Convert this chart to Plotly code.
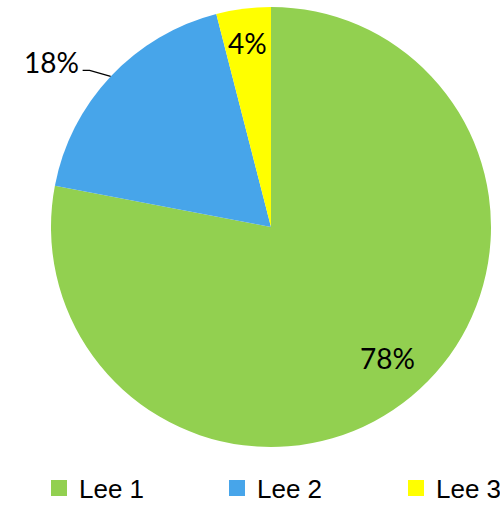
import math
import plotly.graph_objects as go

categories = ["Lee 1", "Lee 2", "Lee 3"]
values = [78, 18, 4]
colors = ["#92D050", "#47A5EA", "#FFFF00"]
label_radius = [0.79, 1.0, 0.845]

W, H = 500, 505
cx, cy, R = 271, 227, 220  # pie centre / radius in pixels
label_nudge = [(6, -3), (3, 0), (0, 0)]  # fine pixel adjustments of labels
legend_x = [39, 217, 396]  # pixel left of each legend box
legend_y = 488

def px(x):
    return x / W

def py(y):
    return 1 - y / H

fig = go.Figure()
fig.add_trace(go.Pie(
    labels=categories, values=values, sort=False, direction="clockwise",
    rotation=0, marker=dict(colors=colors, line=dict(width=0)),
    textinfo="none", hoverinfo="label+percent", showlegend=False,
    domain=dict(x=[px(cx - R), px(cx + R)], y=[py(cy + R), py(cy - R)]),
))

legend_font = dict(family="Liberation Sans, Arial", size=26, color="black")
legend_layouts = {}
for i, (cat, col) in enumerate(zip(categories, colors)):
    lname = "legend" if i == 0 else f"legend{i + 1}"
    fig.add_trace(go.Scatter(
        x=[None], y=[None], mode="markers", name=cat, legend=lname,
        marker=dict(symbol="square", size=16, color=col),
    ))
    legend_layouts[lname] = dict(
        orientation="h", x=px(legend_x[i]), y=py(legend_y),
        xanchor="left", yanchor="middle", font=legend_font,
        bgcolor="rgba(0,0,0,0)", borderwidth=0,
    )

total = sum(values)
start = 0.0
annotations = []
shapes = []
for cat, v, rf, (nx, ny) in zip(categories, values, label_radius, label_nudge):
    mid = start + v / total * 180.0
    start += v / total * 360.0
    a = math.radians(mid)
    txt = f"{round(v / total * 100)}%"
    if rf < 1:
        lx = cx + rf * R * math.sin(a) + nx
        ly = cy - rf * R * math.cos(a) + ny
        annotations.append(dict(x=px(lx), y=py(ly), xref="paper", yref="paper",
                                text=txt, showarrow=False,
                                xanchor="center", yanchor="middle",
                                font=dict(family="Lato", size=28, color="black")))
    else:
        ex = cx + R * math.sin(a)
        ey = cy - R * math.cos(a)
        kx, ky = ex - 21, ey - 6
        hx, hy = kx - 7, ky
        shapes.append(dict(type="path", xref="paper", yref="paper",
                           path=f"M {px(ex)},{py(ey)} L {px(kx)},{py(ky)} L {px(hx)},{py(hy)}",
                           line=dict(color="black", width=1.3)))
        annotations.append(dict(x=px(hx - 5 + nx), y=py(hy - 8 + ny), xref="paper", yref="paper",
                                text=txt, showarrow=False,
                                xanchor="right", yanchor="middle",
                                font=dict(family="Lato", size=28, color="black")))

fig.update_layout(
    width=W, height=H, margin=dict(l=0, r=0, t=0, b=0, autoexpand=False),
    paper_bgcolor="white", plot_bgcolor="white",
    xaxis=dict(visible=False), yaxis=dict(visible=False),
    annotations=annotations, shapes=shapes,
    **legend_layouts,
)

fig.write_html("out.html", config={"displayModeBar": False},
               post_script="document.body.style.margin='0';")
